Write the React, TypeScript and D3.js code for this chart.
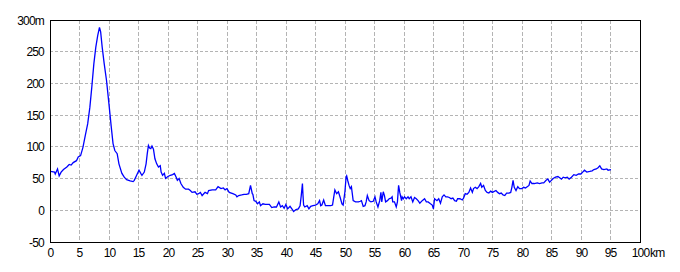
import React from "react";
import * as d3 from "d3";

const distKm: number[] = [
  0, 0.68, 0.8, 1.19, 1.47, 1.8, 2.2, 2.77, 3.17, 3.5, 3.85, 4.4, 4.7, 5.1, 5.5, 5.9, 6.3, 6.67, 7.0, 7.35, 7.68, 8.0, 8.3, 8.5, 8.76, 9.1, 9.5, 9.9, 10.3, 10.6, 10.9, 11.3, 11.6, 12.1, 12.5, 12.9, 13.5, 14.0, 14.2, 14.6, 15.0, 15.3, 15.5, 15.9, 16.2, 16.4, 16.6,
  16.8, 17.0, 17.2, 17.45, 17.7, 18.0, 18.3, 18.6, 18.75, 19.0, 19.3, 19.5, 19.9, 20.3, 20.7, 21.0, 21.3, 21.5, 21.8, 22.1, 22.5, 22.9, 23.4, 23.7, 24.0, 24.5, 24.8, 25.1, 25.4, 25.7, 26.2, 26.6, 26.8, 27.4, 28.0, 28.4, 28.9, 29.3, 29.6, 29.9, 30.3, 30.9, 31.4, 31.6, 31.9, 32.4, 32.8, 33.2, 33.6, 33.9,
  34.2, 34.3, 34.5, 34.8, 35.1, 35.4, 35.6, 36.0, 36.4, 36.8, 37.1, 37.5, 37.9, 38.3, 38.7, 39.0, 39.3, 39.6, 39.9, 40.2, 40.6, 41.0, 41.2, 41.6, 42.0, 42.3, 42.5, 42.7, 42.8, 42.9, 43.1, 43.5, 43.8, 44.1, 44.5, 44.9, 45.3, 45.6, 45.8, 46.0, 46.3, 46.6, 47.1, 47.5, 47.8, 48.0, 48.2, 48.5, 48.8, 49.1, 49.4, 49.6, 49.9, 50.1, 50.2, 50.4,
  50.6, 50.8, 51.0, 51.3, 51.7, 52.2, 52.5, 52.7, 53.0, 53.3, 53.5, 53.7, 54.0, 54.3, 54.7, 55.0, 55.2, 55.5, 55.8, 56.0, 56.15, 56.4, 56.6, 56.8, 57.1, 57.4, 57.7, 57.9, 58.0, 58.3, 58.6, 58.8, 58.9, 59.0, 59.2, 59.5, 59.6, 59.8, 60.0, 60.3, 60.6, 60.8, 61.1, 61.4, 61.7, 62.0, 62.3, 62.6, 63.0, 63.4, 63.7, 64.0, 64.4, 64.7, 64.9, 65.1, 65.5, 65.8, 66.1, 66.4, 66.7, 67.0, 67.3,
  67.6, 67.9, 68.2, 68.5, 68.8, 69.0, 69.4, 69.8, 70.0, 70.3, 70.6, 70.9, 71.2, 71.5, 71.7, 72.0, 72.3, 72.6, 72.9, 73.1, 73.4, 73.7, 74.0, 74.3, 74.6, 74.9, 75.5, 75.8, 76.1, 76.4, 76.7, 77.0, 77.3, 77.7, 78.0, 78.2, 78.4, 78.6, 78.9, 79.2, 79.5, 79.9, 80.2, 80.5, 80.8, 81.1, 81.3, 81.6, 82.0, 82.5, 82.9, 83.3, 83.6, 84.0, 84.3, 84.6, 84.9,
  85.2, 85.6, 86.0, 86.3, 86.6, 86.9, 87.2, 87.6, 87.9, 88.3, 88.7, 89.1, 89.5, 89.9, 90.2, 90.5, 90.9, 91.4, 91.8, 92.1, 92.5, 92.8, 93.1, 93.4, 93.8, 94.3, 94.5, 95.0,
];

const elevM: number[] = [
  62, 61, 58, 66, 55, 61, 65, 69, 73, 72, 76, 79, 85, 87, 100, 119, 137, 163, 195, 232, 258, 276, 289, 282, 258, 232, 205, 169, 132, 106, 95, 90, 74, 59, 53, 49, 47, 46, 48, 56, 64, 59, 56, 61, 74, 90, 103,
  99, 98, 102, 97, 82, 74, 69, 71, 61, 56, 59, 51, 54, 56, 57, 59, 53, 48, 51, 43, 37, 34, 34, 32, 29, 30, 26, 27, 29, 24, 29, 27, 32, 33, 33, 38, 35, 36, 33, 35, 29, 27, 25, 22, 24, 25, 26, 26, 27, 40,
  27, 26, 16, 15, 11, 14, 8, 11, 10, 10, 10, 5, 6, 6, 14, 6, 8, 4, 10, 3, 7, 2, -1, 2, 3, 8, 24, 43, 24, 9, 6, 8, 3, 7, 8, 9, 11, 16, 8, 9, 17, 8, 8, 8, 9, 21, 33, 27, 30, 21, 11, 9, 30, 53, 55, 47,
  40, 35, 38, 16, 14, 14, 15, 16, 7, 8, 14, 24, 16, 14, 15, 22, 14, 6, 16, 29, 14, 30, 24, 14, 16, 19, 20, 22, 14, 14, 6, 14, 27, 40, 29, 16, 22, 19, 22, 19, 22, 19, 22, 14, 21, 19, 16, 12, 16, 19, 14, 14, 11, 9, 3, 19, 16, 19, 12, 22, 25, 22, 22,
  21, 19, 20, 16, 15, 19, 19, 17, 20, 27, 26, 29, 36, 29, 35, 37, 35, 38, 43, 37, 40, 32, 29, 28, 31, 29, 32, 29, 27, 28, 25, 24, 28, 28, 29, 37, 48, 37, 32, 38, 35, 35, 37, 36, 38, 40, 47, 43, 43, 44, 43, 44, 44, 48, 50, 45, 48,
  51, 53, 54, 52, 50, 53, 52, 53, 50, 53, 57, 56, 58, 58, 61, 64, 61, 62, 63, 65, 66, 68, 71, 66, 65, 66, 64, 65,
];

const xTicks: number[] = [0, 5, 10, 15, 20, 25, 30, 35, 40, 45, 50, 55, 60, 65, 70, 75, 80, 85, 90, 95, 100];
const yTicks: number[] = [-50, 0, 50, 100, 150, 200, 250, 300];

export default function App() {
  const W = 680;
  const H = 272;
  const x = d3.scaleLinear().domain([0, 100]).range([50, 640]);
  const y = d3.scaleLinear().domain([-50, 300]).range([242, 20]);
  const px = (v: number) => Math.floor(x(v)) + 0.5;
  const py = (v: number) => Math.floor(y(v)) + 0.5;

  const pts: [number, number][] = distKm.map((d, i) => [d, elevM[i]]);
  const line = d3
    .line<[number, number]>()
    .x((d) => x(d[0]) + 0.5)
    .y((d) => y(d[1]) + 0.5);

  const font = "'Liberation Sans', Arial, sans-serif";
  const fs = 12;
  const ls = -0.8;

  return (
    <svg
      width={W}
      height={H}
      style={{ position: "absolute", left: 0, top: 0, background: "#fff" }}
    >
      <rect x={0} y={0} width={W} height={H} fill="#fff" />
      {xTicks.slice(1, -1).map((t) => (
        <line
          key={"gx" + t}
          x1={px(t)}
          x2={px(t)}
          y1={20}
          y2={242}
          stroke="#b4b4b4"
          strokeWidth={1}
          strokeDasharray="4,2"
          shapeRendering="crispEdges"
        />
      ))}
      {yTicks.slice(1, -1).map((t) => (
        <line
          key={"gy" + t}
          x1={50}
          x2={640}
          y1={py(t)}
          y2={py(t)}
          stroke="#b4b4b4"
          strokeWidth={1}
          strokeDasharray="3,2"
          shapeRendering="crispEdges"
        />
      ))}
      <path d={line(pts) || ""} fill="none" stroke="#0000ff" strokeWidth={1.3} strokeLinejoin="miter" />
      <rect
        x={50.5}
        y={20.5}
        width={590}
        height={222}
        fill="none"
        stroke="#000"
        strokeWidth={1}
        shapeRendering="crispEdges"
      />
      {yTicks.map((t) => (
        <text
          key={"ly" + t}
          x={44}
          y={py(t)}
          dy="0.35em"
          textAnchor="end"
          fontFamily={font}
          fontSize={fs}
          letterSpacing={ls}
          fill="#000"
        >
          {t === 300 ? "300m" : String(t)}
        </text>
      ))}
      {xTicks.map((t) => (
        <text
          key={"lx" + t}
          x={px(t)}
          y={257}
          textAnchor="middle"
          fontFamily={font}
          fontSize={fs}
          letterSpacing={ls}
          fill="#000"
        >
          {String(t)}
        </text>
      ))}
      <text x={650} y={257} fontFamily={font} fontSize={fs} letterSpacing={ls} fill="#000">
        km
      </text>
    </svg>
  );
}
